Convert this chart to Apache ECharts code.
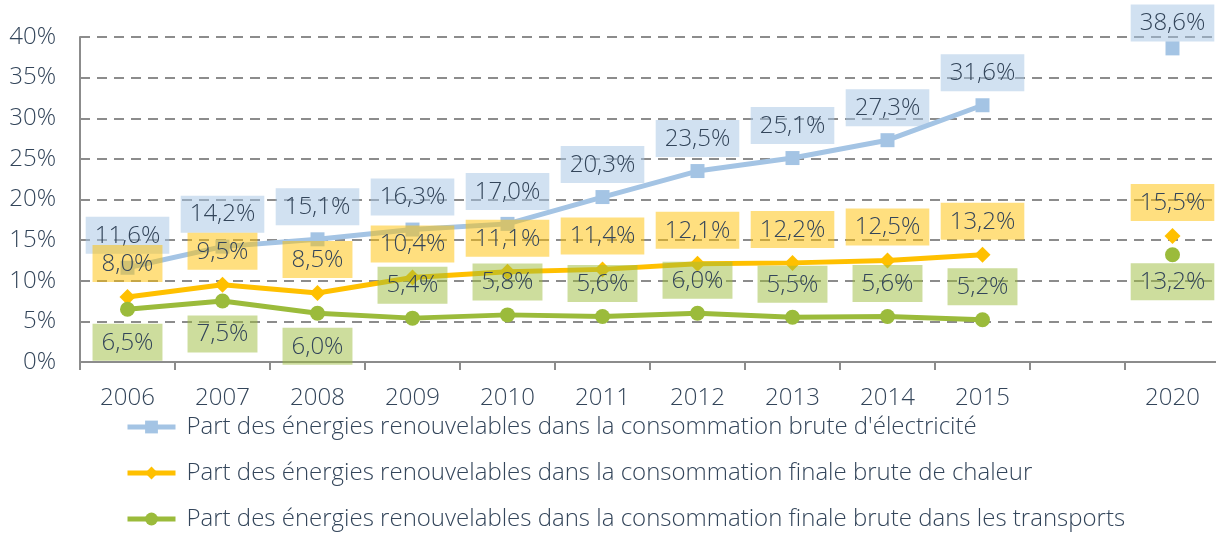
<!DOCTYPE html>
<html>
<head>
<meta charset="utf-8">
<script src="https://cdn.jsdelivr.net/npm/echarts@6/dist/echarts.min.js"></script>
<style>
  html, body { margin: 0; padding: 0; background: #fff; overflow: hidden; }
  #chart { width: 1220px; height: 535px; }
</style>
</head>
<body>
<div id="chart"></div>
<script>
// années (la case vide sépare 2015 de l'objectif 2020)
const years = ['2006', '2007', '2008', '2009', '2010', '2011', '2012', '2013', '2014', '2015', '', '2020']
const elecValues = [11.6, 14.2, 15.1, 16.3, 17.0, 20.3, 23.5, 25.1, 27.3, 31.6, null, 38.6]
const heatValues = [8.0, 9.5, 8.5, 10.4, 11.1, 11.4, 12.1, 12.2, 12.5, 13.2, null, 15.5]
const transportValues = [6.5, 7.5, 6.0, 5.4, 5.8, 5.6, 6.0, 5.5, 5.6, 5.2, null, 13.2]
// position des étiquettes pour la série transports
const transportLabelPos = ['bottom', 'bottom', 'bottom', 'top', 'top', 'top', 'top', 'top', 'top', 'top', 'top', 'bottom']
const seriesNames = [
  "Part des énergies renouvelables dans la consommation brute d'électricité",
  'Part des énergies renouvelables dans la consommation finale brute de chaleur',
  'Part des énergies renouvelables dans la consommation finale brute dans les transports',
]

const FONT = 'Open Sans'
const TEXT = '#33455a'
const LAST = years.length - 1

function fmt(v) {
  return v.toFixed(1).replace('.', ',') + '%'
}

function labelStyle(bg) {
  return {
    show: true,
    position: 'top',
    distance: 7,
    formatter: (p) => fmt(p.value),
    fontFamily: FONT,
    fontWeight: 300,
    fontSize: 24,
    lineHeight: 26,
    color: TEXT,
    backgroundColor: bg,
    padding: [6, 9, 5, 9],
  }
}

// une légende par ligne, empilées sous l'axe
let legends = seriesNames.map((name, i) => ({
  left: 125,
  top: 415 + i * 46,
  padding: 0,
  itemWidth: 48,
  itemHeight: 16,
  lineStyle: { width: 5 },
  textStyle: {
    fontFamily: FONT,
    fontWeight: 300,
    fontSize: 24,
    color: TEXT,
    padding: [0, 0, 0, 6],
  },
  data: [name],
}))

let chart = echarts.init(document.getElementById('chart'))
chart.setOption({
  animation: false,
  color: ['#a4c4e4', '#ffc000', '#9bbb3b'],
  grid: {
    left: 80,
    top: 37,
    width: 1140,
    height: 325,
  },
  legend: legends,
  xAxis: {
    type: 'category',
    data: years,
    axisLine: { lineStyle: { color: '#8c8c8c', width: 2 } },
    axisTick: { show: true, length: 8, lineStyle: { color: '#8c8c8c', width: 2 } },
    axisLabel: {
      fontFamily: FONT,
      fontWeight: 300,
      fontSize: 24,
      color: TEXT,
      margin: 24,
      interval: 0,
    },
  },
  yAxis: {
    type: 'value',
    min: 0,
    max: 40,
    interval: 5,
    axisLine: { show: true, lineStyle: { color: '#8c8c8c', width: 2 } },
    axisTick: { show: false },
    axisLabel: {
      formatter: '{value}%',
      fontFamily: FONT,
      fontWeight: 300,
      fontSize: 24,
      color: TEXT,
      margin: 24,
    },
    splitLine: {
      lineStyle: { color: '#8c8c8c', width: 2, type: [10, 7] },
    },
  },
  series: [
    {
      name: seriesNames[0],
      type: 'line',
      data: elecValues.map((v, i) => (i === LAST ? { value: v, label: { offset: [0, 7] } } : v)),
      symbol: 'rect',
      symbolSize: 14,
      lineStyle: { width: 5 },
      label: labelStyle('rgba(164,196,228,0.5)'),
      z: 2,
    },
    {
      name: seriesNames[1],
      type: 'line',
      data: heatValues,
      symbol: 'diamond',
      symbolSize: 16,
      lineStyle: { width: 5 },
      label: labelStyle('rgba(255,192,0,0.5)'),
      z: 3,
    },
    {
      name: seriesNames[2],
      type: 'line',
      data: transportValues.map((v, i) => ({
        value: v,
        label: { position: transportLabelPos[i], offset: i === LAST ? [0, -6] : [0, 0] },
      })),
      symbol: 'circle',
      symbolSize: 15,
      lineStyle: { width: 5 },
      label: labelStyle('rgba(155,187,59,0.5)'),
      z: 4,
    },
  ],
})
</script>
</body>
</html>
